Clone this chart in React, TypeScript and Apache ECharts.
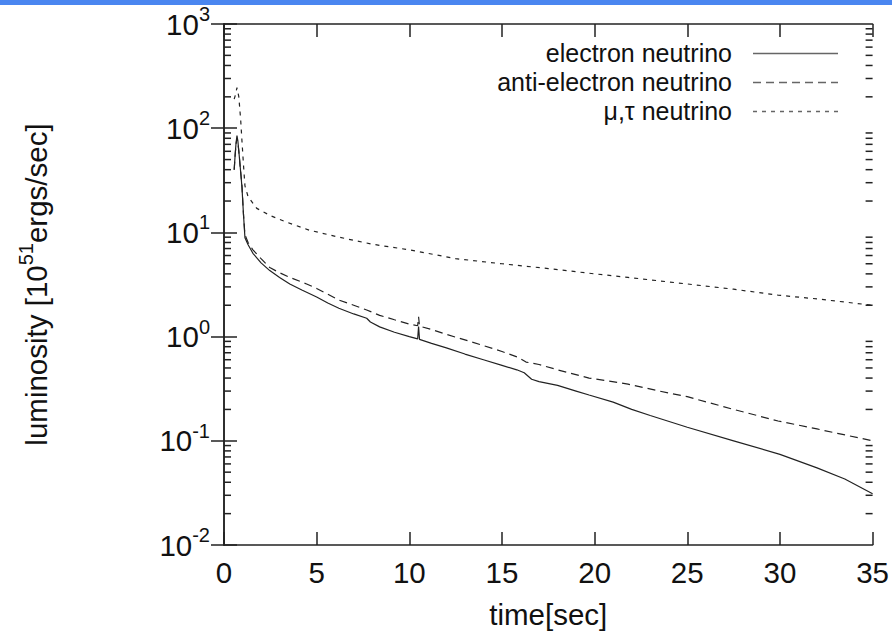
import React, { useEffect, useRef } from "react";
import * as echarts from "echarts";

const FONT = "Liberation Sans, Arial, Helvetica, sans-serif";
const FS = 29.5;
const LEGEND_FS = 25;

const SERIES_NAMES = ["electron neutrino", "anti-electron neutrino", "\u03bc,\u03c4 neutrino"];

// time [sec], luminosity [1e51 erg/s]
const electronT = [0.55, 0.6, 0.65, 0.7, 0.75, 0.8, 0.9, 0.97, 1.05, 1.13, 1.3, 1.56, 2.0, 2.47, 3.0, 3.55, 4.2, 5.0, 5.6, 6.2, 7.0, 7.7, 7.9, 8.4, 9.2, 10.0, 10.45, 10.5, 10.55, 11.2, 12.0, 13.0, 14.0, 15.0, 15.8, 16.2, 16.6, 17.0, 18.0, 19.0, 19.7, 21.0, 22.0, 23.0, 25.0, 27.5, 30.0, 32.0, 33.5, 35.0];
const electronL = [40, 55, 72, 85, 75, 60, 38, 27, 15, 8.9, 7.6, 6.3, 5.1, 4.3, 3.7, 3.2, 2.8, 2.4, 2.1, 1.87, 1.65, 1.5, 1.38, 1.24, 1.1, 1.0, 0.95, 1.25, 0.94, 0.86, 0.78, 0.68, 0.6, 0.53, 0.48, 0.45, 0.39, 0.37, 0.34, 0.3, 0.275, 0.235, 0.2, 0.175, 0.135, 0.1, 0.074, 0.055, 0.043, 0.031];

const antiT = [0.55, 0.6, 0.65, 0.7, 0.75, 0.8, 0.9, 0.97, 1.05, 1.13, 1.3, 1.56, 2.0, 2.47, 3.0, 3.55, 4.46, 5.0, 6.2, 7.0, 7.7, 8.4, 9.2, 10.0, 10.45, 10.5, 10.55, 11.2, 12.0, 13.0, 14.0, 15.0, 15.9, 16.3, 17.0, 18.0, 19.7, 21.8, 23.5, 25.0, 27.5, 29.9, 32.0, 33.1, 35.0];
const antiL = [40, 55, 70, 80, 72, 60, 38, 28, 15, 9.5, 8.0, 6.8, 5.6, 4.6, 4.1, 3.7, 3.2, 2.9, 2.24, 2.0, 1.8, 1.6, 1.45, 1.32, 1.27, 1.55, 1.26, 1.17, 1.05, 0.93, 0.82, 0.72, 0.63, 0.57, 0.54, 0.48, 0.4, 0.35, 0.3, 0.265, 0.2, 0.155, 0.13, 0.118, 0.1];

const muTauT = [0.55, 0.62, 0.7, 0.8, 0.9, 0.97, 1.05, 1.13, 1.3, 1.77, 2.5, 3.4, 4.6, 6.2, 8.0, 10.0, 12.5, 15.0, 17.5, 20.0, 21.8, 25.0, 27.5, 29.9, 32.0, 35.0];
const muTauL = [190, 210, 245, 200, 120, 75, 45, 28, 22, 17, 14.5, 12.5, 10.5, 9.0, 7.7, 6.8, 5.6, 5.0, 4.5, 4.0, 3.7, 3.2, 2.85, 2.5, 2.3, 2.0];

const X_MIN = 0;
const X_MAX = 35;
const X_STEP = 5;
const Y_MIN = 0.01;
const Y_MAX = 1000;

// minor tick values of the log axis (2..9 of each decade)
const MINOR_TICKS = [
  0.02, 0.03, 0.04, 0.05, 0.06, 0.07, 0.08, 0.09,
  0.2, 0.3, 0.4, 0.5, 0.6, 0.7, 0.8, 0.9,
  2, 3, 4, 5, 6, 7, 8, 9,
  20, 30, 40, 50, 60, 70, 80, 90,
  200, 300, 400, 500, 600, 700, 800, 900,
];

const zip = (t: number[], l: number[]) => t.map((v, i) => [v, l[i]]);

const LINE_COLOR = "#222";
const TEXT_COLOR = "#111";

export default function App() {
  const ref = useRef<HTMLDivElement>(null);

  useEffect(() => {
    if (!ref.current) return;
    const chart = echarts.init(ref.current, undefined, { renderer: "svg" });

    const axisLine = { show: true, lineStyle: { color: LINE_COLOR, width: 1.5 } };
    const tick = { show: true, inside: true, length: 13, lineStyle: { color: LINE_COLOR, width: 1.5 } };
    const rich = {
      b: { fontSize: FS, lineHeight: 40, fontFamily: FONT, color: TEXT_COLOR },
      s: { fontSize: 20, lineHeight: 20, verticalAlign: "top", fontFamily: FONT, color: TEXT_COLOR },
    };

    const legendRowsY = [52.5, 81.5, 110.5];
    const dashes: (number[] | null)[] = [null, [8, 5], [4, 5]];
    const legendGraphics: any[] = [];
    SERIES_NAMES.forEach((name, i) => {
      legendGraphics.push({
        type: "text",
        x: 732,
        y: legendRowsY[i],
        style: {
          text: name,
          fontSize: LEGEND_FS,
          lineHeight: 26,
          fontFamily: FONT,
          fill: TEXT_COLOR,
          align: "right",
          verticalAlign: "middle",
        },
      });
      legendGraphics.push({
        type: "line",
        shape: { x1: 753, y1: legendRowsY[i] + 1, x2: 838, y2: legendRowsY[i] + 1 },
        style: { stroke: "#666", lineWidth: 1.5, lineDash: dashes[i] || undefined },
      });
    });

    const lineSeries = (name: string, data: number[][], dash: number[] | null) => ({
      name,
      type: "line",
      data,
      symbol: "none",
      xAxisIndex: 0,
      yAxisIndex: 0,
      lineStyle: { color: LINE_COLOR, width: 1.2, type: dash || "solid" },
      itemStyle: { color: LINE_COLOR },
      z: 3,
    });

    chart.setOption({
      animation: false,
      backgroundColor: "#fff",
      textStyle: { fontFamily: FONT },
      grid: { left: 224, top: 24, width: 650, height: 521, containLabel: false },
      xAxis: [
        {
          type: "value",
          min: X_MIN,
          max: X_MAX,
          interval: X_STEP,
          position: "bottom",
          axisLine,
          axisTick: tick,
          splitLine: { show: false },
          axisLabel: { fontSize: FS, color: TEXT_COLOR, margin: 12, fontFamily: FONT },
          name: "time[sec]",
          nameLocation: "middle",
          nameGap: 54,
          nameTextStyle: { fontSize: FS, color: TEXT_COLOR, fontFamily: FONT },
        },
        {
          type: "value",
          min: X_MIN,
          max: X_MAX,
          interval: X_STEP,
          position: "top",
          axisLine,
          axisTick: tick,
          splitLine: { show: false },
          axisLabel: { show: false },
        },
      ],
      yAxis: [
        {
          type: "log",
          logBase: 10,
          min: Y_MIN,
          max: Y_MAX,
          position: "left",
          axisLine,
          axisTick: tick,
          splitLine: { show: false },
          axisLabel: {
            margin: 14,
            formatter: (v: number) => "{b|10}{s|" + Math.round(Math.log10(v)) + "}",
            rich,
          },
          name: "luminosity [10{s|51}ergs/sec]",
          nameLocation: "middle",
          nameGap: 168,
          nameTextStyle: {
            fontSize: FS,
            lineHeight: 40,
            color: TEXT_COLOR,
            fontFamily: FONT,
            rich: { s: rich.s },
          },
        },
        {
          type: "log",
          logBase: 10,
          min: Y_MIN,
          max: Y_MAX,
          position: "right",
          axisLine,
          axisTick: tick,
          splitLine: { show: false },
          axisLabel: { show: false },
        },
      ],
      graphic: [
        {
          type: "rect",
          shape: { x: 0, y: 0, width: 892, height: 5 },
          style: { fill: "#4a86f0" },
        },
        ...legendGraphics,
      ],
      series: [
        lineSeries(SERIES_NAMES[0], zip(electronT, electronL), null),
        lineSeries(SERIES_NAMES[1], zip(antiT, antiL), [8, 5]),
        lineSeries(SERIES_NAMES[2], zip(muTauT, muTauL), [4, 5]),
        {
          type: "custom",
          xAxisIndex: 0,
          yAxisIndex: 0,
          data: MINOR_TICKS.map((v) => [X_MIN, v]),
          silent: true,
          z: 4,
          renderItem: (_params: any, api: any) => {
            const v = api.value(1);
            const p0 = api.coord([X_MIN, v]);
            const p1 = api.coord([X_MAX, v]);
            return {
              type: "group",
              children: [
                {
                  type: "line",
                  shape: { x1: p0[0], y1: p0[1], x2: p0[0] + 7, y2: p0[1] },
                  style: { stroke: LINE_COLOR, lineWidth: 1.5 },
                },
                {
                  type: "line",
                  shape: { x1: p1[0] - 7, y1: p1[1], x2: p1[0], y2: p1[1] },
                  style: { stroke: LINE_COLOR, lineWidth: 1.5 },
                },
              ],
            };
          },
        },
      ],
    });

    return () => chart.dispose();
  }, []);

  return (
    <div
      ref={ref}
      style={{ position: "fixed", left: 0, top: 0, width: 892, height: 637, background: "#fff" }}
    />
  );
}
